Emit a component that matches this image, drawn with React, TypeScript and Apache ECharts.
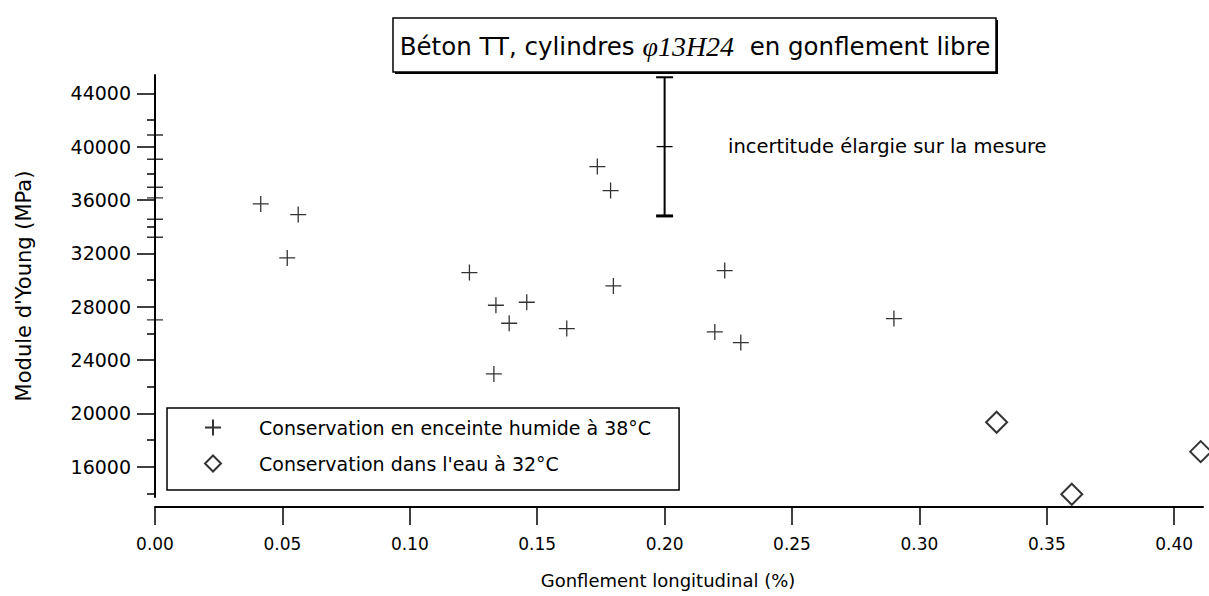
import { useEffect, useRef } from "react";
import * as echarts from "echarts";

// ---- data ----
const humidX = [0, 0, 0, 0, 0, 0, 0, 0.0415, 0.0562, 0.0519, 0.1234, 0.1338, 0.139, 0.1459, 0.133, 0.1616, 0.1736, 0.1788, 0.1799, 0.2236, 0.2197, 0.2299, 0.29];
const humidY = [40870, 39050, 36950, 36150, 34550, 33200, 27000, 35700, 34900, 31650, 30550, 28100, 26750, 28325, 22950, 26350, 38500, 36700, 29550, 30700, 26100, 25300, 27100];
const waterX = [0.3303, 0.3598, 0.4104];
const waterY = [19325, 13925, 17120];
// [x, centre, low, high]
const uncertainty = [0.2, 40000, 34800, 45200];
const yTicks = [16000, 20000, 24000, 28000, 32000, 36000, 40000, 44000];
const yMinorTicks = [14000, 18000, 22000, 26000, 30000, 34000, 38000, 42000];
const xTicks = [0, 0.05, 0.1, 0.15, 0.2, 0.25, 0.3, 0.35, 0.4];

const humidName = "Conservation en enceinte humide à 38°C";
const waterName = "Conservation dans l'eau à 32°C";
const titleMain = "Béton TT, cylindres ";
const titleItalic = "φ13H24";
const titleEnd = "  en gonflement libre";
const noteText = "incertitude élargie sur la mesure";

const FONT = "DejaVu Sans";

export default function App() {
  const ref = useRef<HTMLDivElement>(null);
  useEffect(() => {
    if (!ref.current) return;
    const chart = echarts.init(ref.current, null, { renderer: "svg" });
    const plusPath = "path://M0,8L16,8M8,0L8,16";
    const option: any = {
      animation: false,
      backgroundColor: "#fff",
      grid: { left: 155, right: 6, top: 75, bottom: 99, containLabel: false },
      xAxis: {
        type: "value",
        min: 0,
        max: 0.4113,
        offset: 10,
        axisLine: { show: true, lineStyle: { color: "#000", width: 2 } },
        axisTick: { show: true, length: 18, customValues: xTicks, lineStyle: { color: "#000", width: 1.5 } },
        axisLabel: {
          customValues: xTicks,
          formatter: (v: number) => v.toFixed(2),
          margin: 28,
          fontFamily: FONT,
          fontSize: 17,
          color: "#000",
        },
        splitLine: { show: false },
        name: "Gonflement longitudinal (%)",
        nameLocation: "middle",
        nameGap: 64,
        nameTextStyle: { fontFamily: FONT, fontSize: 18, color: "#000", padding: [0, 22, 0, 0] },
      },
      yAxis: [
        {
          type: "value",
          min: 13720,
          max: 45370,
          position: "left",
          axisLine: { show: true, lineStyle: { color: "#000", width: 2 } },
          axisTick: { show: true, length: 18, customValues: yTicks, lineStyle: { color: "#000", width: 1.5 } },
          axisLabel: {
            customValues: yTicks,
            formatter: (v: number) => String(Math.round(v)),
            margin: 24,
            fontFamily: FONT,
            fontSize: 19,
            color: "#000",
          },
          splitLine: { show: false },
          name: "Module d'Young (MPa)",
          nameLocation: "middle",
          nameGap: 121,
          nameTextStyle: { fontFamily: FONT, fontSize: 21, color: "#000" },
        },
        {
          type: "value",
          min: 13720,
          max: 45370,
          position: "left",
          axisLine: { show: false },
          axisTick: { show: true, length: 8, customValues: yMinorTicks, lineStyle: { color: "#000", width: 1.5 } },
          axisLabel: { show: false },
          splitLine: { show: false },
        },
      ],
      legend: {
        left: 167,
        top: 408,
        orient: "vertical",
        itemWidth: 16,
        itemHeight: 16,
        itemGap: 17,
        padding: [10, 28, 17, 37],
        borderColor: "#000",
        borderWidth: 1.5,
        textStyle: { fontFamily: FONT, fontSize: 19, color: "#000", padding: [0, 0, 0, 33] },
        data: [humidName, waterName],
      },
      graphic: [
        {
          type: "rect",
          shape: { x: 395, y: 20, width: 603, height: 54 },
          style: { fill: "#000" },
          z: 10,
        },
        {
          type: "rect",
          shape: { x: 393, y: 18, width: 603, height: 54 },
          style: { fill: "#fff", stroke: "#000", lineWidth: 1.5 },
          z: 11,
        },
        {
          type: "text",
          x: 695,
          y: 46,
          z: 12,
          style: {
            text: "{a|" + titleMain + "}{b|" + titleItalic + "}{a|" + titleEnd + "}",
            align: "center",
            verticalAlign: "middle",
            rich: {
              a: { fontFamily: FONT, fontSize: 24.5, fill: "#000" },
              b: { fontFamily: "Liberation Serif", fontStyle: "italic", fontSize: 28, fill: "#000" },
            },
          },
        },
        {
          type: "text",
          x: 728,
          y: 146,
          style: { text: noteText, fontFamily: FONT, fontSize: 19.5, fill: "#000", align: "left", verticalAlign: "middle" },
        },
      ],
      series: [
        {
          name: humidName,
          type: "scatter",
          yAxisIndex: 0,
          symbol: plusPath,
          symbolSize: 16,
          clip: false,
          itemStyle: { color: "rgba(0,0,0,0)", borderColor: "#000", borderWidth: 1.3 },
          data: humidX.map((x, i) => [x, humidY[i]]),
        },
        {
          name: waterName,
          type: "scatter",
          yAxisIndex: 0,
          symbol: "diamond",
          symbolSize: 21,
          clip: false,
          itemStyle: { color: "#fff", borderColor: "#000", borderWidth: 2 },
          data: waterX.map((x, i) => [x, waterY[i]]),
        },
        {
          name: "incertitude",
          type: "custom",
          yAxisIndex: 0,
          clip: false,
          data: [uncertainty],
          renderItem: (params: any, api: any) => {
            const x = api.value(0);
            const c = api.coord([x, api.value(1)]);
            const lo = api.coord([x, api.value(2)]);
            const hi = api.coord([x, api.value(3)]);
            const st = { stroke: "#000", lineWidth: 2 };
            return {
              type: "group",
              children: [
                { type: "line", shape: { x1: hi[0], y1: hi[1], x2: lo[0], y2: lo[1] }, style: st },
                { type: "line", shape: { x1: hi[0] - 8.5, y1: hi[1], x2: hi[0] + 8.5, y2: hi[1] }, style: st },
                { type: "line", shape: { x1: lo[0] - 8.5, y1: lo[1], x2: lo[0] + 8.5, y2: lo[1] }, style: { stroke: "#000", lineWidth: 3 } },
                { type: "line", shape: { x1: c[0] - 8, y1: c[1], x2: c[0] + 8, y2: c[1] }, style: { stroke: "#000", lineWidth: 1.3 } },
              ],
            };
          },
        },
      ],
    };
    chart.setOption(option);
    return () => chart.dispose();
  }, []);
  return (
    <div
      ref={ref}
      style={{ position: "fixed", left: 0, top: 0, width: 1209, height: 596, background: "#fff" }}
    />
  );
}
